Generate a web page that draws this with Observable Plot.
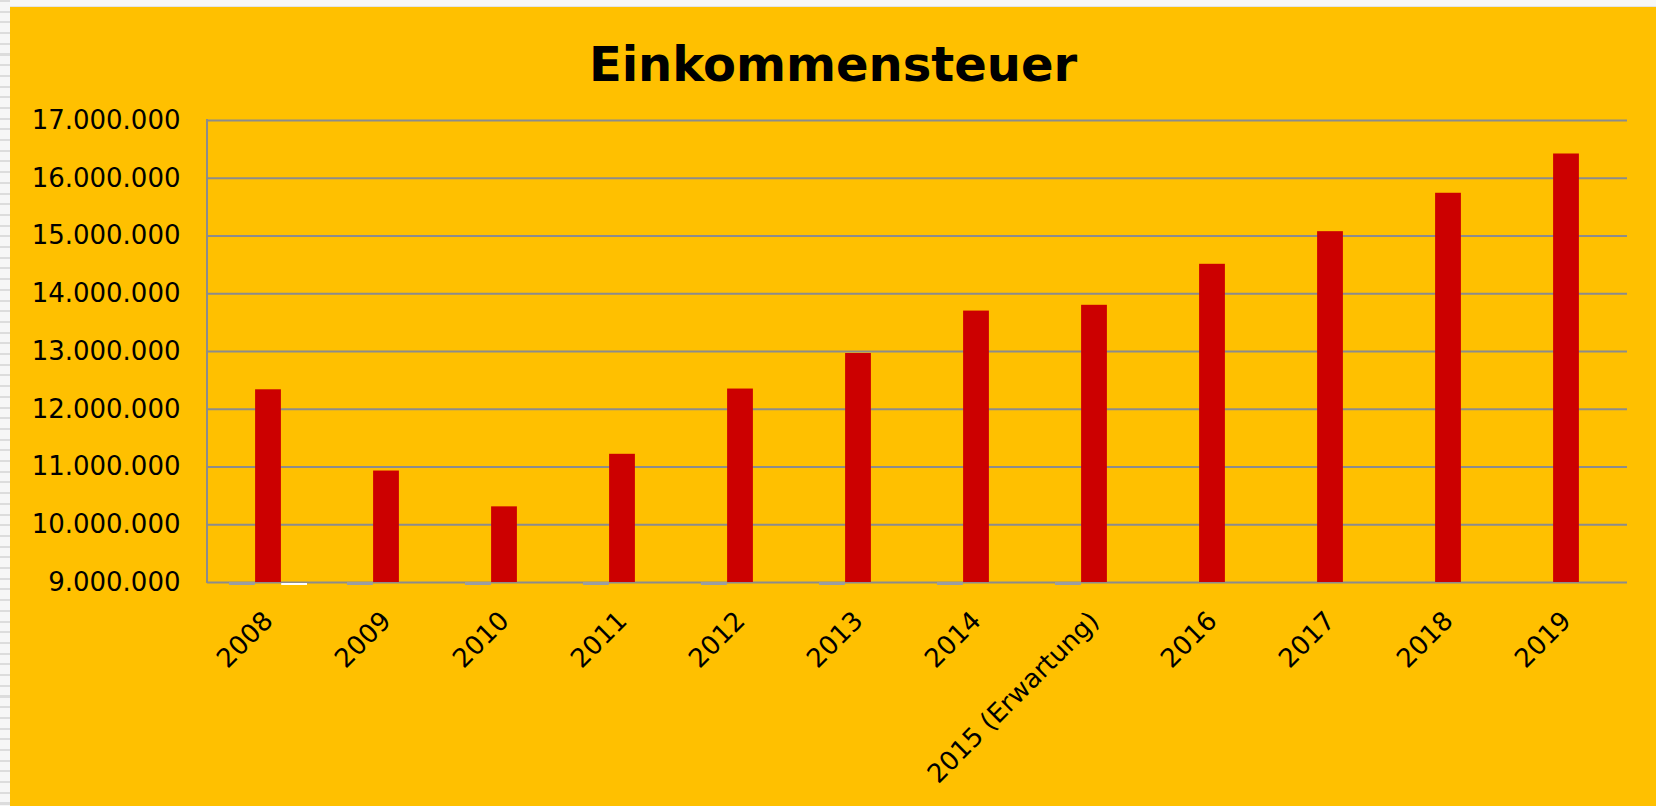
<!DOCTYPE html>
<html>
<head>
<meta charset="utf-8">
<script src="https://cdn.jsdelivr.net/npm/d3@7"></script>
<script src="https://cdn.jsdelivr.net/npm/@observablehq/plot@0.6"></script>
<style>
  html, body { margin: 0; padding: 0; background: #ffffff; width: 1656px; height: 806px; overflow: hidden; }
  #stripes { position: absolute; left: 0; top: 0; width: 10px; height: 806px;
    background: repeating-linear-gradient(to bottom, #dcdcdc 0px, #dcdcdc 2px, #f6f6f6 2px, #f6f6f6 10.7px); }
  #topstrip { position: absolute; left: 0; top: 0; width: 1656px; height: 7px; background: #f7f7f7; border-bottom: 1px solid #e4e4e4; box-sizing: border-box; }
  #chart { position: absolute; left: 10px; top: 7px; width: 1646px; height: 799px; background: #FFC000; }
  #title { height: 93px; box-sizing: border-box; padding-top: 33px; text-align: center;
    font-family: "DejaVu Sans", Verdana, sans-serif; font-weight: bold; font-size: 48px; line-height: 48px; color: #000; }
</style>
</head>
<body>
<div id="topstrip"></div>
<div id="stripes"></div>
<div id="chart">
  <div id="title">Einkommensteuer</div>
  <div id="plot"></div>
</div>
<script>
// ---- data ----
const years = ["2008", "2009", "2010", "2011", "2012", "2013", "2014", "2015 (Erwartung)", "2016", "2017", "2018", "2019"];
const einkommensteuer = [12337000, 10930000, 10310000, 11220000, 12350000, 12965000, 13700000, 13800000, 14510000, 15075000, 15740000, 16420000];
// years where the other (off-scale) series show only as a stub on the baseline
const graueSerieJahre = ["2008", "2009", "2010", "2011", "2012", "2013", "2014", "2015 (Erwartung)"];
const weisseSerieJahre = ["2008"];
const yTicks = [9000000, 10000000, 11000000, 12000000, 13000000, 14000000, 15000000, 16000000, 17000000];

const yMin = yTicks[0], yMax = yTicks[yTicks.length - 1];
const bars = years.map((y, i) => ({year: y, value: einkommensteuer[i], base: yMin}));
const grayStubs = graueSerieJahre.map(y => ({year: y, value: yMin}));
const whiteStubs = weisseSerieJahre.map(y => ({year: y, value: yMin}));

const de = d3.formatLocale({decimal: ",", thousands: ".", grouping: [3], currency: ["", " €"]});
const fmt = de.format(",d");

const gridColor = "#8c8c8c";

const leftAxisLine = (index, scales, values, dims) => {
  const g = d3.create("svg:line")
    .attr("x1", dims.marginLeft).attr("x2", dims.marginLeft)
    .attr("y1", scales.y(yMax) - 1).attr("y2", scales.y(yMin) + 1)
    .attr("stroke", gridColor).attr("stroke-width", 2);
  return g.node();
};

const chart = Plot.plot({
  width: 1646,
  height: 706,
  marginLeft: 197,
  marginRight: 29,
  marginTop: 20,
  marginBottom: 224,
  style: {fontFamily: "DejaVu Sans, Verdana, sans-serif", background: "transparent", color: "#000", overflow: "visible"},
  x: {type: "band", domain: years, paddingInner: 0.338, paddingOuter: 0.169, axis: null},
  y: {domain: [yMin, yMax], axis: null},
  marks: [
    Plot.gridY(yTicks, {stroke: gridColor, strokeOpacity: 1, strokeWidth: 2}),
    leftAxisLine,
    Plot.tickY(grayStubs, {x: "year", y: "value", stroke: "#9a9ea3", strokeWidth: 3, dy: 1, insetRight: 52.2}),
    Plot.tickY(whiteStubs, {x: "year", y: "value", stroke: "#ffffff", strokeWidth: 2, dy: 1.5, insetLeft: 52.2}),
    Plot.barY(bars, {x: "year", y1: "base", y2: "value", fill: "#CC0000", insetLeft: 26.1, insetRight: 26.1}),
    Plot.axisY(yTicks, {tickSize: 0, tickPadding: 27, tickFormat: fmt, fontSize: 26, fill: "#000", label: null}),
    Plot.axisX({tickSize: 0, tickPadding: 34, tickRotate: -45, fontSize: 26, fill: "#000", label: null})
  ]
});
document.getElementById("plot").appendChild(chart);
</script>
</body>
</html>
